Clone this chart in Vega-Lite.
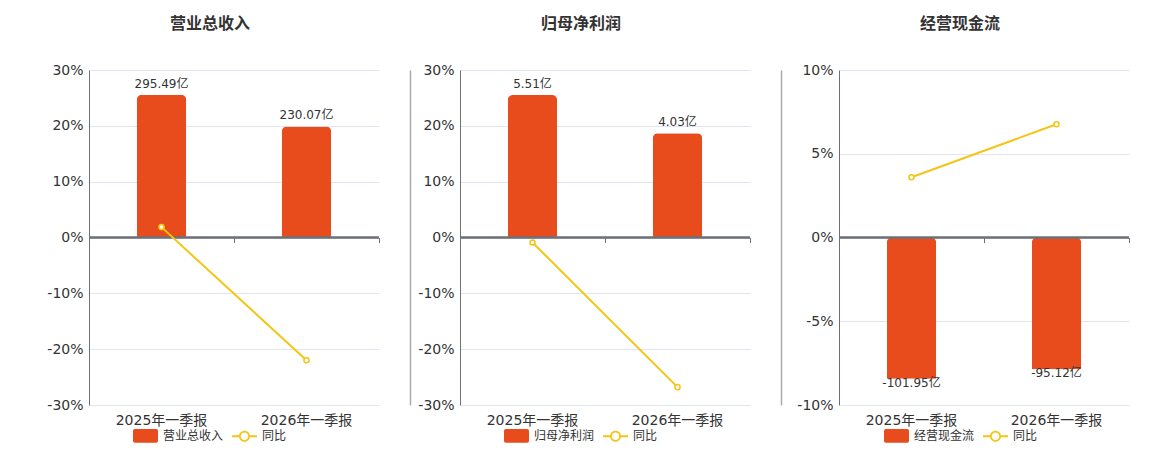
{
  "$schema": "https://vega.github.io/schema/vega-lite/v6.json",
  "padding": {"left": 46, "top": 16, "right": 5, "bottom": 0},
  "background": "white",
  "config": {
    "view": {"stroke": null},
    "font": "DejaVu Sans, Noto Sans CJK SC, sans-serif",
    "title": {"font": "Noto Sans CJK SC", "fontSize": 16, "fontWeight": "bold", "color": "#333333", "offset": 31, "dx": -24},
    "legend": {"orient": "none", "legendY": 353, "direction": "horizontal", "title": null, "symbolSize": 625, "labelFontSize": 12, "labelColor": "#333333", "labelOffset": 5, "columnPadding": 8, "symbolStrokeWidth": 0}
  },
  "spacing": 30,
  "resolve": {"scale": {"color": "independent"}, "legend": {"color": "independent"}},
  "hconcat": [
    {
      "width": 290, "height": 335,
      "title": "营业总收入",
      "data": {"values": [
        {"period": "2025年一季报", "amount": 295.49, "label": "295.49亿", "yoy": 1.86},
        {"period": "2026年一季报", "amount": 230.07, "label": "230.07亿", "yoy": -22.0}
      ]},
      "resolve": {"scale": {"y": "independent"}, "axis": {"x": "independent"}},
      "layer": [
        {
          "layer": [
            {
              "mark": {"type": "bar", "width": {"band": 0.34}, "cornerRadiusEnd": 5},
              "encoding": {
                "x": {"field": "period", "type": "nominal", "sort": null, "scale": {"paddingInner": 0, "paddingOuter": 0},
                      "axis": {"orient": "bottom", "title": null, "domain": false, "ticks": false, "labelAngle": 0, "labelFontSize": 14, "labelColor": "#333333", "labelPadding": 8}},
                "y": {"field": "amount", "type": "quantitative", "scale": {"domain": [-347, 347], "nice": false, "zero": false}, "axis": null},
                "color": {"datum": "营业总收入", "type": "nominal", "scale": {"domain": ["营业总收入", "同比"], "range": ["#e84b1c", "#f4c514"]},
                  "legend": {"legendX": 44,
                    "encode": {"symbols": {"update": {
                      "shape": {"signal": "datum.value === '同比' ? 'M-1,-0.08L-0.42,-0.08L-0.42,0.08L-1,0.08ZM0.42,-0.08L1,-0.08L1,0.08L0.42,0.08ZM-0.44,0A0.44,0.44 0 1,1 0.44,0A0.44,0.44 0 1,1 -0.44,0ZM-0.3,0A0.3,0.3 0 1,0 0.3,0A0.3,0.3 0 1,0 -0.3,0Z' : 'M-0.85,-0.55L0.85,-0.55Q1,-0.55 1,-0.4L1,0.4Q1,0.55 0.85,0.55L-0.85,0.55Q-1,0.55 -1,0.4L-1,-0.4Q-1,-0.55 -0.85,-0.55Z'"},
                      "strokeWidth": {"value": 0}}}}}}
              }
            },
            {
              "mark": {"type": "text", "baseline": "bottom", "dy": -4, "fontSize": 12, "color": "#333333"},
              "encoding": {
                "x": {"field": "period", "type": "nominal", "sort": null},
                "y": {"field": "amount", "type": "quantitative"},
                "text": {"field": "label"}
              }
            },
            {
              "mark": {"type": "rule", "color": "#6e7079", "strokeWidth": 2},
              "encoding": {"y": {"datum": 0, "type": "quantitative"}}
            }
          ]
        },
        {
          "mark": {"type": "line", "strokeWidth": 2, "point": {"filled": false, "fill": "white", "size": 26, "strokeWidth": 1.5}},
          "encoding": {
            "x": {"field": "period", "type": "nominal", "sort": null,
                  "axis": {"orient": "bottom", "offset": -167.5, "title": null, "domain": false, "labels": false, "ticks": true, "tickBand": "extent", "tickColor": "#6e7079", "tickSize": 5, "tickWidth": 1}},
            "y": {"field": "yoy", "type": "quantitative", "scale": {"domain": [-30, 30]},
                  "axis": {"orient": "left", "title": null, "values": [-30, -20, -10, 0, 10, 20, 30], "labelExpr": "datum.value + '%'", "grid": true, "gridColor": "#e0e6f1", "domainColor": "#6e7079", "ticks": false, "labelFontSize": 14, "labelColor": "#333333", "labelPadding": 6}},
            "color": {"datum": "同比", "type": "nominal",
                  "legend": {"legendX": 44,
                    "encode": {"symbols": {"update": {
                      "shape": {"signal": "datum.value === '同比' ? 'M-1,-0.08L-0.42,-0.08L-0.42,0.08L-1,0.08ZM0.42,-0.08L1,-0.08L1,0.08L0.42,0.08ZM-0.44,0A0.44,0.44 0 1,1 0.44,0A0.44,0.44 0 1,1 -0.44,0ZM-0.3,0A0.3,0.3 0 1,0 0.3,0A0.3,0.3 0 1,0 -0.3,0Z' : 'M-0.85,-0.55L0.85,-0.55Q1,-0.55 1,-0.4L1,0.4Q1,0.55 0.85,0.55L-0.85,0.55Q-1,0.55 -1,0.4L-1,-0.4Q-1,-0.55 -0.85,-0.55Z'"},
                      "strokeWidth": {"value": 0}}}}}}
          }
        }
      ]
    },
    {
      "width": 290, "height": 335,
      "title": "归母净利润",
      "data": {"values": [
        {"period": "2025年一季报", "amount": 5.51, "label": "5.51亿", "yoy": -0.89},
        {"period": "2026年一季报", "amount": 4.03, "label": "4.03亿", "yoy": -26.8}
      ]},
      "resolve": {"scale": {"y": "independent"}, "axis": {"x": "independent"}},
      "layer": [
        {
          "layer": [
            {
              "mark": {"type": "bar", "width": {"band": 0.34}, "cornerRadiusEnd": 5},
              "encoding": {
                "x": {"field": "period", "type": "nominal", "sort": null, "scale": {"paddingInner": 0, "paddingOuter": 0},
                      "axis": {"orient": "bottom", "title": null, "domain": false, "ticks": false, "labelAngle": 0, "labelFontSize": 14, "labelColor": "#333333", "labelPadding": 8}},
                "y": {"field": "amount", "type": "quantitative", "scale": {"domain": [-6.475, 6.475], "nice": false, "zero": false},
                      "axis": {"orient": "left", "offset": 50, "title": null, "labels": false, "ticks": false, "grid": false, "domainColor": "#aaaaaa", "domainWidth": 1.5}},
                "color": {"datum": "归母净利润", "type": "nominal", "scale": {"domain": ["归母净利润", "同比"], "range": ["#e84b1c", "#f4c514"]},
                  "legend": {"legendX": 44,
                    "encode": {"symbols": {"update": {
                      "shape": {"signal": "datum.value === '同比' ? 'M-1,-0.08L-0.42,-0.08L-0.42,0.08L-1,0.08ZM0.42,-0.08L1,-0.08L1,0.08L0.42,0.08ZM-0.44,0A0.44,0.44 0 1,1 0.44,0A0.44,0.44 0 1,1 -0.44,0ZM-0.3,0A0.3,0.3 0 1,0 0.3,0A0.3,0.3 0 1,0 -0.3,0Z' : 'M-0.85,-0.55L0.85,-0.55Q1,-0.55 1,-0.4L1,0.4Q1,0.55 0.85,0.55L-0.85,0.55Q-1,0.55 -1,0.4L-1,-0.4Q-1,-0.55 -0.85,-0.55Z'"},
                      "strokeWidth": {"value": 0}}}}}}
              }
            },
            {
              "mark": {"type": "text", "baseline": "bottom", "dy": -4, "fontSize": 12, "color": "#333333"},
              "encoding": {
                "x": {"field": "period", "type": "nominal", "sort": null},
                "y": {"field": "amount", "type": "quantitative"},
                "text": {"field": "label"}
              }
            },
            {
              "mark": {"type": "rule", "color": "#6e7079", "strokeWidth": 2},
              "encoding": {"y": {"datum": 0, "type": "quantitative"}}
            }
          ]
        },
        {
          "mark": {"type": "line", "strokeWidth": 2, "point": {"filled": false, "fill": "white", "size": 26, "strokeWidth": 1.5}},
          "encoding": {
            "x": {"field": "period", "type": "nominal", "sort": null,
                  "axis": {"orient": "bottom", "offset": -167.5, "title": null, "domain": false, "labels": false, "ticks": true, "tickBand": "extent", "tickColor": "#6e7079", "tickSize": 5, "tickWidth": 1}},
            "y": {"field": "yoy", "type": "quantitative", "scale": {"domain": [-30, 30]},
                  "axis": {"orient": "left", "title": null, "values": [-30, -20, -10, 0, 10, 20, 30], "labelExpr": "datum.value + '%'", "grid": true, "gridColor": "#e0e6f1", "domainColor": "#6e7079", "ticks": false, "labelFontSize": 14, "labelColor": "#333333", "labelPadding": 6}},
            "color": {"datum": "同比", "type": "nominal",
                  "legend": {"legendX": 44,
                    "encode": {"symbols": {"update": {
                      "shape": {"signal": "datum.value === '同比' ? 'M-1,-0.08L-0.42,-0.08L-0.42,0.08L-1,0.08ZM0.42,-0.08L1,-0.08L1,0.08L0.42,0.08ZM-0.44,0A0.44,0.44 0 1,1 0.44,0A0.44,0.44 0 1,1 -0.44,0ZM-0.3,0A0.3,0.3 0 1,0 0.3,0A0.3,0.3 0 1,0 -0.3,0Z' : 'M-0.85,-0.55L0.85,-0.55Q1,-0.55 1,-0.4L1,0.4Q1,0.55 0.85,0.55L-0.85,0.55Q-1,0.55 -1,0.4L-1,-0.4Q-1,-0.55 -0.85,-0.55Z'"},
                      "strokeWidth": {"value": 0}}}}}}
          }
        }
      ]
    },
    {
      "width": 290, "height": 335,
      "title": "经营现金流",
      "data": {"values": [
        {"period": "2025年一季报", "amount": -101.95, "label": "-101.95亿", "yoy": 3.6},
        {"period": "2026年一季报", "amount": -95.12, "label": "-95.12亿", "yoy": 6.76}
      ]},
      "resolve": {"scale": {"y": "independent"}, "axis": {"x": "independent"}},
      "layer": [
        {
          "layer": [
            {
              "mark": {"type": "bar", "width": {"band": 0.34}, "cornerRadiusEnd": 5},
              "encoding": {
                "x": {"field": "period", "type": "nominal", "sort": null, "scale": {"paddingInner": 0, "paddingOuter": 0},
                      "axis": {"orient": "bottom", "title": null, "domain": false, "ticks": false, "labelAngle": 0, "labelFontSize": 14, "labelColor": "#333333", "labelPadding": 8}},
                "y": {"field": "amount", "type": "quantitative", "scale": {"domain": [-121, 121], "nice": false, "zero": false},
                      "axis": {"orient": "left", "offset": 58, "title": null, "labels": false, "ticks": false, "grid": false, "domainColor": "#aaaaaa", "domainWidth": 1.5}},
                "color": {"datum": "经营现金流", "type": "nominal", "scale": {"domain": ["经营现金流", "同比"], "range": ["#e84b1c", "#f4c514"]},
                  "legend": {"legendX": 45,
                    "encode": {"symbols": {"update": {
                      "shape": {"signal": "datum.value === '同比' ? 'M-1,-0.08L-0.42,-0.08L-0.42,0.08L-1,0.08ZM0.42,-0.08L1,-0.08L1,0.08L0.42,0.08ZM-0.44,0A0.44,0.44 0 1,1 0.44,0A0.44,0.44 0 1,1 -0.44,0ZM-0.3,0A0.3,0.3 0 1,0 0.3,0A0.3,0.3 0 1,0 -0.3,0Z' : 'M-0.85,-0.55L0.85,-0.55Q1,-0.55 1,-0.4L1,0.4Q1,0.55 0.85,0.55L-0.85,0.55Q-1,0.55 -1,0.4L-1,-0.4Q-1,-0.55 -0.85,-0.55Z'"},
                      "strokeWidth": {"value": 0}}}}}}
              }
            },
            {
              "mark": {"type": "text", "baseline": "top", "dy": -1, "fontSize": 12, "color": "#333333"},
              "encoding": {
                "x": {"field": "period", "type": "nominal", "sort": null},
                "y": {"field": "amount", "type": "quantitative"},
                "text": {"field": "label"}
              }
            },
            {
              "mark": {"type": "rule", "color": "#6e7079", "strokeWidth": 2},
              "encoding": {"y": {"datum": 0, "type": "quantitative"}}
            }
          ]
        },
        {
          "mark": {"type": "line", "strokeWidth": 2, "point": {"filled": false, "fill": "white", "size": 26, "strokeWidth": 1.5}},
          "encoding": {
            "x": {"field": "period", "type": "nominal", "sort": null,
                  "axis": {"orient": "bottom", "offset": -167.5, "title": null, "domain": false, "labels": false, "ticks": true, "tickBand": "extent", "tickColor": "#6e7079", "tickSize": 5, "tickWidth": 1}},
            "y": {"field": "yoy", "type": "quantitative", "scale": {"domain": [-10, 10]},
                  "axis": {"orient": "left", "title": null, "values": [-10, -5, 0, 5, 10], "labelExpr": "datum.value + '%'", "grid": true, "gridColor": "#e0e6f1", "domainColor": "#6e7079", "ticks": false, "labelFontSize": 14, "labelColor": "#333333", "labelPadding": 6}},
            "color": {"datum": "同比", "type": "nominal",
                  "legend": {"legendX": 45,
                    "encode": {"symbols": {"update": {
                      "shape": {"signal": "datum.value === '同比' ? 'M-1,-0.08L-0.42,-0.08L-0.42,0.08L-1,0.08ZM0.42,-0.08L1,-0.08L1,0.08L0.42,0.08ZM-0.44,0A0.44,0.44 0 1,1 0.44,0A0.44,0.44 0 1,1 -0.44,0ZM-0.3,0A0.3,0.3 0 1,0 0.3,0A0.3,0.3 0 1,0 -0.3,0Z' : 'M-0.85,-0.55L0.85,-0.55Q1,-0.55 1,-0.4L1,0.4Q1,0.55 0.85,0.55L-0.85,0.55Q-1,0.55 -1,0.4L-1,-0.4Q-1,-0.55 -0.85,-0.55Z'"},
                      "strokeWidth": {"value": 0}}}}}}
          }
        }
      ]
    }
  ]
}
